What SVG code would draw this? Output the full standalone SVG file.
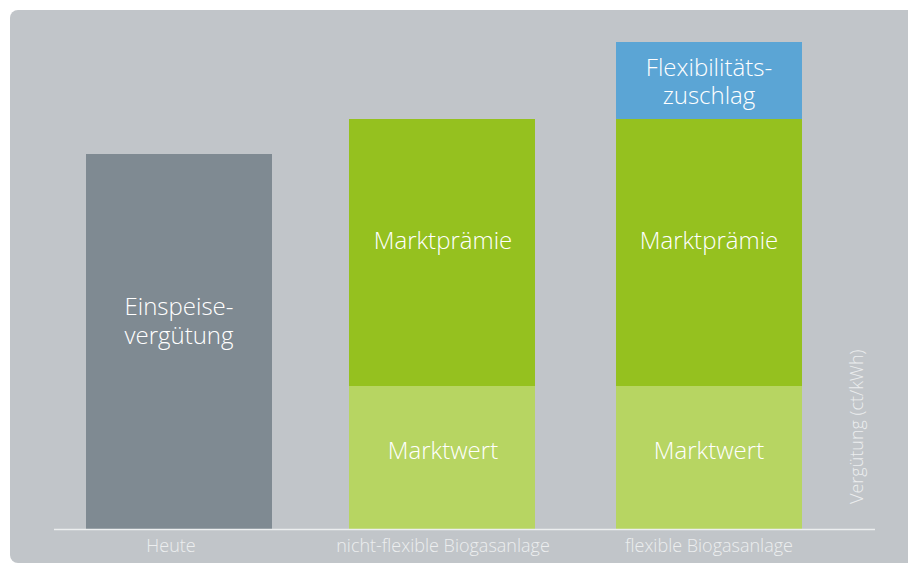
<svg xmlns="http://www.w3.org/2000/svg" width="908" height="565" viewBox="0 0 908 565">
<style>
.lbl{font-family:"Open Sans","Noto Sans","Liberation Sans",sans-serif;font-weight:300;fill:#ffffff;text-anchor:middle;font-size:24px}
.ax{font-family:"Open Sans","Noto Sans","Liberation Sans",sans-serif;font-weight:300;fill:#eceeef;font-size:18px}
</style>
<rect x="10" y="10" width="910" height="553" rx="8" fill="#c1c5c9"/>
<g id="heute">
<rect x="86" y="154" width="186" height="375" fill="#7f8a92"/>
<text class="lbl" x="179" y="315">Einspeise-</text>
<text class="lbl" x="179" y="344">vergütung</text>
</g>
<g id="nicht-flexibel">
<rect x="349" y="119" width="186" height="267" fill="#95c11f"/>
<rect x="349" y="386" width="186" height="143" fill="#b7d562"/>
<text class="lbl" x="443" y="249">Marktprämie</text>
<text class="lbl" x="443" y="459">Marktwert</text>
</g>
<g id="flexibel">
<rect x="616" y="42" width="186" height="77" fill="#5ba5d5"/>
<rect x="616" y="119" width="186" height="267" fill="#95c11f"/>
<rect x="616" y="386" width="186" height="143" fill="#b7d562"/>
<text class="lbl" x="709" y="76">Flexibilitäts-</text>
<text class="lbl" x="709" y="104">zuschlag</text>
<text class="lbl" x="709" y="249">Marktprämie</text>
<text class="lbl" x="709" y="459">Marktwert</text>
</g>
<g id="axis">
<line x1="54" y1="529.5" x2="875" y2="529.5" stroke="#eceeef" stroke-width="1.5"/>
<text class="ax" x="171" y="552" text-anchor="middle">Heute</text>
<text class="ax" x="443" y="552" text-anchor="middle">nicht-flexible Biogasanlage</text>
<text class="ax" x="709" y="552" text-anchor="middle">flexible Biogasanlage</text>
<text class="ax" transform="translate(863,504) rotate(-90)" font-size="18.5">Vergütung (ct/kWh)</text>
</g>
</svg>
